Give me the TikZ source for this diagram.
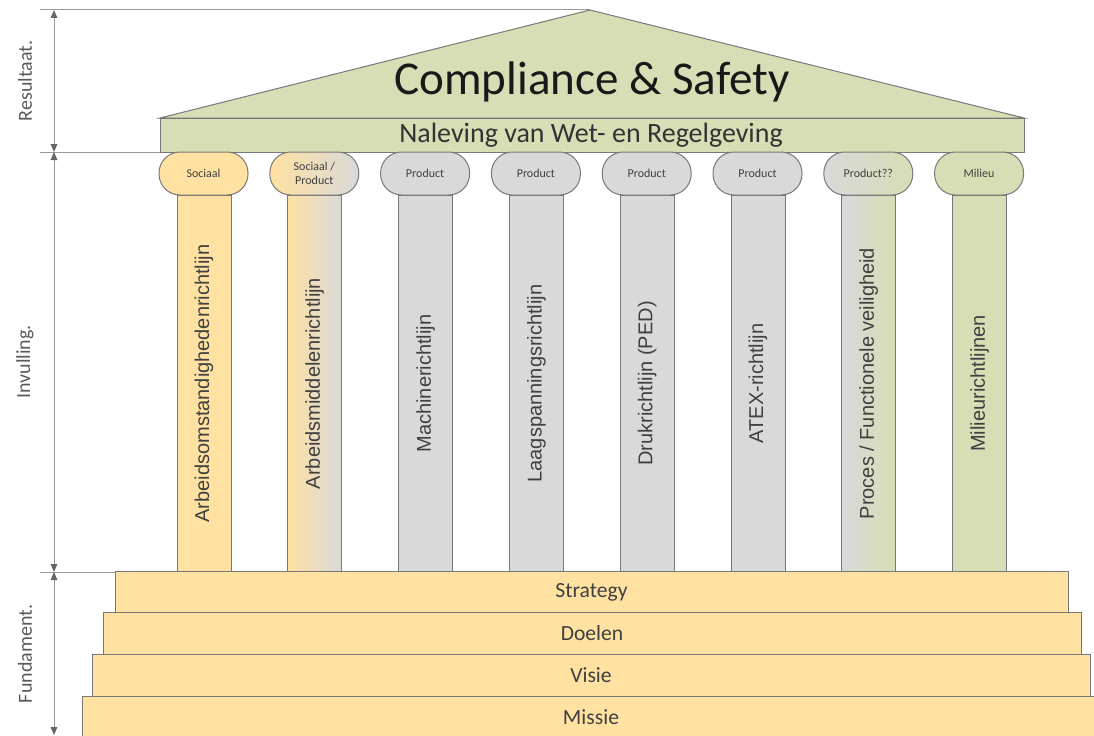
\documentclass[tikz,border=0pt]{standalone}
\usepackage{fontspec}
\setmainfont{Carlito}
\newfontfamily\arialfont{Liberation Sans}
\usetikzlibrary{arrows.meta}

\definecolor{roofgreen}{RGB}{215,221,180}
\definecolor{pillargray}{RGB}{217,217,217}
\definecolor{baseyellow}{RGB}{255,225,162}
\definecolor{edgegray}{RGB}{120,120,120}
\definecolor{labelgray}{RGB}{89,89,89}
\definecolor{textdark}{RGB}{64,64,64}

\tikzset{every picture/.style={line width=0.75pt}}
\tikzset{
  edge/.style={draw=edgegray},
  capital/.style={edge, rounded corners=21*0.75pt, minimum width=89*0.75pt, minimum height=43*0.75pt, inner sep=0pt, align=center, font=\fontsize{9}{10}\selectfont, text=black!75},
  shaft/.style={edge, minimum width=54*0.75pt, minimum height=377*0.75pt, inner sep=0pt},
  shafttext/.style={rotate=90, font=\arialfont\fontsize{15}{18}\selectfont, text=textdark},
  stepbox/.style={edge, fill=baseyellow, minimum height=42*0.75pt, inner sep=0pt, font=\fontsize{16.2}{19}\selectfont, text=textdark},
  dimline/.style={draw=gray!80, {Triangle[length=6pt,width=5pt,color=black!60]}-{Triangle[length=6pt,width=5pt,color=black!60]}},
  helpline/.style={draw=gray!80},
  sidelabel/.style={rotate=90, font=\fontsize{15}{18}\selectfont, text=labelgray}
}

\begin{document}
\begin{tikzpicture}[x=0.75pt,y=0.75pt,yscale=-1,xscale=1]
\useasboundingbox (0,0) rectangle (1094,735);
\clip (0,0) rectangle (1094,735);

% level marks on the left
\coordinate (resTop) at (54,10);
\coordinate (resBot) at (54,152);
\coordinate (fundTop) at (54,572);
\coordinate (fundBot) at (54,735);
\draw [helpline] (40,10) -- (590,10);
\draw [helpline] (40,152) -- (160,152);
\draw [helpline] (40,572) -- (115,572);
\draw [dimline] (resTop) -- (resBot);
\draw [dimline] (resBot) -- (fundTop);
\draw [dimline] (fundTop) -- (fundBot);
\node [sidelabel] (resultaat) at (25,81) {Resultaat.};
\node [sidelabel] (invulling) at (25,362) {Invulling.};
\node [sidelabel] (fundament) at (25,654) {Fundament.};

% roof and entablature
\draw [edge, fill=roofgreen] (160,118) -- (590,10) -- (1024,118) -- cycle;
\draw [edge, fill=roofgreen] (160,118) rectangle (1024,152);
\node [font=\fontsize{35.3}{42}\selectfont, text=black!90] (title) at (592,82) {Compliance \& Safety};
\node [font=\fontsize{21}{25}\selectfont, text=black!80] (naleving) at (591,135) {Naleving van Wet- en Regelgeving};

% pillars: shaft, capital and label
\foreach \i/\cap/\txt/\lc/\rc in {
  1/Sociaal/Arbeidsomstandighedenrichtlijn/baseyellow/baseyellow,
  2/{Sociaal /\\Product}/Arbeidsmiddelenrichtlijn/baseyellow/pillargray,
  3/Product/Machinerichtlijn/pillargray/pillargray,
  4/Product/Laagspanningsrichtlijn/pillargray/pillargray,
  5/Product/Drukrichtlijn (PED)/pillargray/pillargray,
  6/Product/ATEX-richtlijn/pillargray/pillargray,
  7/Product??/{Proces / Functionele veiligheid}/pillargray/roofgreen,
  8/Milieu/Milieurichtlijnen/roofgreen/roofgreen}
{
  \node [shaft, left color=\lc, right color=\rc] (col\i) at ({204+110.8*(\i-1)},383.5) {};
  \node [shafttext] (coltext\i) at (col\i.center) {\txt};
  \node [capital, left color=\lc, right color=\rc] (cap\i) at ({203.5+110.8*(\i-1)},173.5) {\cap};
}

% foundation steps
\node [stepbox, minimum width=953*0.75pt] (strategy) at (591.5,592) {Strategy};
\node [stepbox, minimum width=978*0.75pt] (doelen) at (592,633) {Doelen};
\node [stepbox, minimum width=998*0.75pt] (visie) at (591,675) {Visie};
\node [stepbox, minimum width=1018*0.75pt] (missie) at (591,717) {Missie};

\end{tikzpicture}
\end{document}
